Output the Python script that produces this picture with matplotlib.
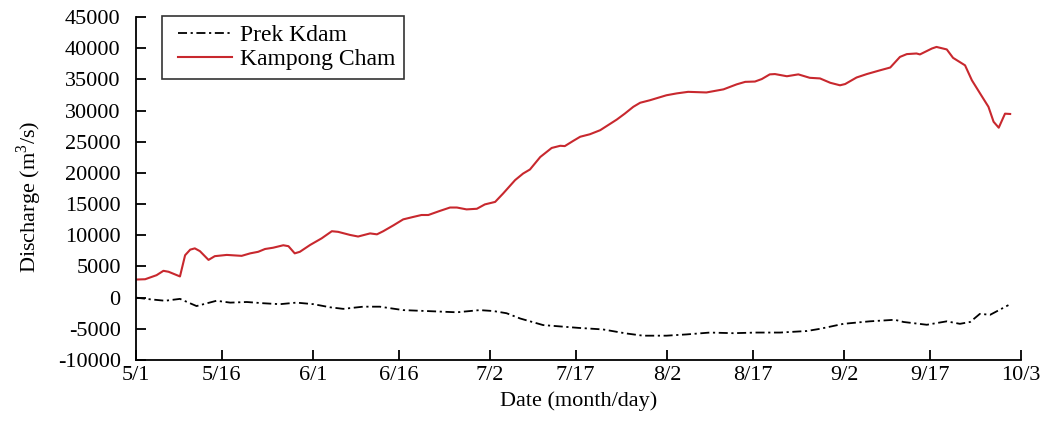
import datetime as dt
import matplotlib
matplotlib.use("Agg")
import matplotlib.pyplot as plt
from matplotlib.legend_handler import HandlerLine2D

# Days counted from 1 May, discharge in m3/s
kc_day = [0, 1.6, 3.6, 4.8, 5.7, 7.7, 8.6, 9.5, 10.3, 11.2, 12.7, 13.8, 15.9, 18.5,
          20.0, 21.4, 22.6, 24.0, 25.8, 26.7, 27.8, 28.7, 30.5, 32.5, 34.3, 35.4,
          37.5, 38.9, 41.0, 42.2, 43.3, 45.1, 46.8, 48.6, 50.0, 51.2, 53.2, 55.0,
          56.2, 57.9, 59.7, 61.1, 62.9, 64.3, 66.4, 67.8, 69.0, 70.8, 72.8, 74.3,
          75.1, 76.6, 77.8, 79.5, 81.3, 84.2, 85.6, 87.1, 88.3, 90.0, 92.9, 94.7,
          96.7, 99.9, 102.9, 105.2, 106.7, 108.4, 109.6, 111.0, 111.9, 114.0,
          116.0, 118.0, 119.8, 121.6, 123.3, 124.2, 126.2, 128.0, 130.3, 132.1,
          133.8, 135.0, 136.7, 137.3, 139.4, 140.2, 142.0, 143.1, 145.2, 146.4,
          148.1, 149.3, 150.2, 151.1, 152.2, 153.1]
kampong_cham = [2900, 2950, 3600, 4300, 4150, 3400, 6800, 7700, 7900, 7450, 6050, 6650,
                6850, 6700, 7100, 7350, 7800, 8000, 8400, 8250, 7100, 7350, 8450, 9500,
                10650, 10550, 10050, 9800, 10300, 10150, 10650, 11600, 12550, 12950,
                13250, 13250, 13900, 14450, 14450, 14150, 14250, 14950, 15350, 16700,
                18850, 19900, 20550, 22550, 24000, 24350, 24300, 25150, 25800, 26200,
                26850, 28550, 29500, 30600, 31250, 31650, 32450, 32750, 33000, 32900,
                33400, 34200, 34600, 34650, 35050, 35800, 35850, 35500, 35800, 35250,
                35150, 34450, 34050, 34250, 35300, 35850, 36450, 36900, 38600, 39050,
                39150, 39000, 39950, 40200, 39800, 38450, 37250, 34850, 32350, 30600,
                28200, 27250, 29500, 29450]

pk_day = [0, 2.5, 5.1, 7.7, 10.6, 14.1, 16.5, 19.4, 22.3, 25.2, 28.1, 31.1, 34.0,
          36.3, 39.8, 42.7, 46.8, 50.9, 56.2, 60.2, 62.6, 64.9, 67.3, 71.3, 77.5,
          81.8, 85.9, 88.8, 92.9, 96.4, 100.5, 104.6, 108.7, 112.8, 117.5, 119.8,
          123.9, 128.5, 132.9, 134.4, 138.5, 142.0, 144.3, 146.1, 147.8, 149.6, 152.8]
prek_kdam = [0, -270, -500, -200, -1350, -500, -800, -700, -900, -1050, -800, -1050,
             -1550, -1800, -1450, -1450, -2000, -2150, -2350, -2000, -2150, -2500,
             -3350, -4400, -4850, -5100, -5750, -6100, -6100, -5900, -5600, -5700,
             -5600, -5600, -5350, -5000, -4200, -3800, -3550, -3900, -4350, -3800,
             -4200, -3900, -2600, -2750, -1200]

date_labels = ["5/1", "5/16", "6/1", "6/16", "7/2", "7/17", "8/2", "8/17", "9/2",
               "9/17", "10/3"]
y_ticks = [-10000, -5000, 0, 5000, 10000, 15000, 20000, 25000, 30000, 35000,
           40000, 45000]

plt.rcParams["font.family"] = ["Liberation Serif", "DejaVu Serif"]
plt.rcParams["axes.unicode_minus"] = False
plt.rcParams["mathtext.fontset"] = "custom"
plt.rcParams["mathtext.rm"] = "Liberation Serif"

FS = 16

start = dt.date(2000, 5, 1)
def day_of(label):
    m, d = (int(v) for v in label.split("/"))
    return (dt.date(2000, m, d) - start).days

tick_pos = [day_of(s) for s in date_labels]

fig = plt.figure(figsize=(10.43, 4.24), dpi=100)
ax = fig.add_axes([136 / 1043, 1 - 360 / 424, 885 / 1043, 343 / 424])

ax.plot(pk_day, prek_kdam, color="black", lw=1.3, linestyle=(0, (5, 2, 1.2, 2)),
        label="Prek Kdam")
ax.plot(kc_day, kampong_cham, color="#c8282e", lw=1.5, label="Kampong Cham")

ax.set_xlim(tick_pos[0], tick_pos[-1])
ax.set_ylim(-10000, 45000)
ax.set_xticks(tick_pos)
ax.set_xticklabels(date_labels)
ax.set_yticks(y_ticks)
ax.set_yticklabels([str(v) for v in y_ticks])

for side in ("top", "right"):
    ax.spines[side].set_visible(False)
for side in ("left", "bottom"):
    ax.spines[side].set_linewidth(1.3)

ax.tick_params(axis="both", direction="in", length=7.5, width=1.3,
               labelsize=FS)
ax.tick_params(axis="x", pad=4)
ax.tick_params(axis="y", pad=11)

ax.set_xlabel("Date (month/day)", fontsize=FS, labelpad=5)
ax.set_ylabel("Discharge (m$^3$/s)", fontsize=FS, labelpad=10)
ax.yaxis.label.set_y(0.475)

leg = ax.legend(loc="upper left", bbox_to_anchor=(0.029, 1.003), fontsize=17,
                frameon=True, fancybox=False, edgecolor="black",
                numpoints=2, handler_map={plt.Line2D: HandlerLine2D(marker_pad=0.33)},
                handlelength=2.95, handletextpad=0.0, borderpad=0.36,
                labelspacing=0.12, borderaxespad=0)
leg.get_frame().set_linewidth(1.2)

fig.savefig("out.png", dpi=100)
